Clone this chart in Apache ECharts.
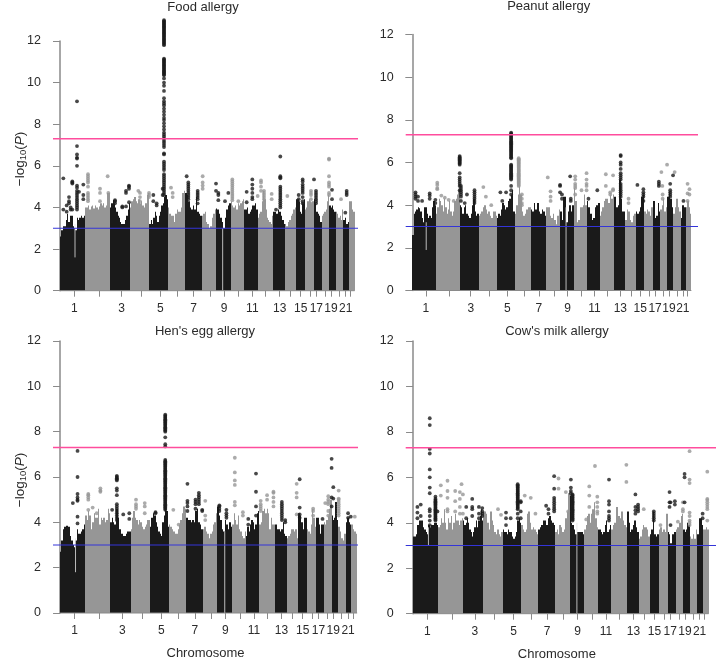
<!DOCTYPE html>
<html><head><meta charset="utf-8">
<style>html,body{margin:0;padding:0;background:#fff}#c{width:716px;height:658px}</style>
<script src="https://cdn.jsdelivr.net/npm/echarts@6/dist/echarts.min.js"></script>
</head><body><div id="c"></div>
<script>
// genome position unit: about 3.26 Mb
var chromSpans=[75,75,60,58,56,51,50,43,44,41,40,47,35,33,27,26,24,23,19,23,17,17];
var chromTicks=[43,117,185,244,301,353,401,450,492,535,577,617,659,692,722,750,769,795,813,838,857,872];
var chromNames=['1','2','3','4','5','6','7','8','9','10','11','12','13','14','15','16','17','18','19','20','21','22'];
var genomeWide=7.3, suggestive=3;

// upper envelope of the dense dots, per chromosome
var foodSky=[
[2.6,2.9,3.1,3.1,3.4,3.7,3.3,3.6,3.6,3.1,3.0,2.9,3.5,3.4,3.5,3.6,3.5,3.6],
[4.0,4.0,4.1,3.9,4.05,4.1,3.95,4.1,4.0,3.9,4.05,4.2,4.1,4.2,4.0,4.1,4.7,4.7],
[4.0,4.2,4.35,4.2,4.0,3.8,3.6,3.5,3.3,3.2,3.2,3.2,3.4,3.6,3.9,4.2],
[4.0,4.3,4.4,4.5,4.3,4.2,4.4,4.2,4.3,4.1,4.0,4.2,4.6,4.7],
[3.2,3.4,3.2,3.5,3.8,3.6,3.3,3.6,3.8,4.1,4.2,4.5,4.6,4.4],
[4.0,3.7,3.6,3.6,3.3,3.7,3.9,3.8,3.8,4.0,4.7,4.8],
[4.7,4.6,4.3,4.0,3.9,4.1,3.9,4.5,3.8,3.7,3.6],
[3.6,3.7,3.8,3.3,3.2,3.0,3.1,3.5,3.7,3.9],
[3.95,3.9,3.7,3.5,3.3,3.0,3.5,3.9,4.1,4.2],
[4.3,4.1,4.0,4.1,3.9,4.2,4.1,4.2,4.3,4.4],
[3.9,3.9,4.0,3.7,3.8,3.9,4.1,4.1,4.2,3.9],
[3.5,3.7,3.8,4.3,4.8,4.4,3.9,3.5,3.4,3.3,3.2,3.6],
[3.8,3.8,3.7,3.9,3.8,3.6,3.4,3.2],
[3.2,3.1,3.3,3.4,3.6,3.7,3.9,4.0],
[4.4,4.4,4.3,3.8,3.7,4.2,4.4],
[3.9,4.0,4.3,4.4,4.3,4.2,4.3],
[4.4,4.2,3.8,3.7,3.6,3.3],
[3.6,3.7,3.8,3.9,4.3,4.6],
[4.1,4.0,4.1,3.9,3.8],
[3.8,3.7,3.5,3.6,3.4,3.9],
[3.4,3.5,3.2,3.3],
[4.3,4.3,3.9,3.8]];
var peanutSky=[
[2.6,3.6,3.7,3.8,3.9,3.85,3.7,3.4,3.2,3.9,3.9,3.6,3.4,3.5,3.4,3.9,4.2,4.0],
[3.6,3.9,4.3,4.2,4.0,3.7,4.3,3.9,3.6,3.8,4.2,3.7,3.5,3.7,4.2,4.3,4.5,4.7],
[4.0,3.9,3.6,3.9,4.0,3.6,3.5,3.4,3.6,4.0,4.3,3.7,3.5,3.6],
[3.5,3.6,3.7,3.9,4.0,3.8,3.6,3.7,3.5,3.4,3.7,3.7,3.5],
[3.4,3.6,3.5,3.8,4.1,4.0,3.8,3.9,4.2,4.3,4.5,4.7,3.7],
[3.6,4.0,4.5,5.9,4.5,3.7,3.5,3.6,3.8,3.9,3.9],
[3.8,3.7,4.1,3.8,4.1,3.7,3.6,3.8,3.7,3.5],
[3.9,3.9,3.5,3.4,3.6,3.3,3.1,3.5,3.8],
[3.7,3.3,4.4,4.4,3.2,3.7,4.0,3.7,4.0],
[4.8,4.2,3.2,3.3,3.9,3.9,4.0,4.5,4.0],
[4.2,3.9,3.6,3.3,3.4,3.9,4.0,4.1],
[3.5,3.7,3.9,4.2,4.3,4.3,4.1,4.5,4.3,4.5],
[4.4,3.9,4.0,5.2,4.3,3.7,3.7],
[3.3,3.8,3.7,3.3,3.2,3.5,3.6],
[3.7,3.6,3.7,3.9,4.4,4.5],
[3.7,3.6,3.8,3.7,3.5,3.9],
[4.2,4.2,3.4,3.5,4.1,3.7],
[3.8,4.0,4.3,3.7,3.9],
[4.4,4.6,4.3,3.9],
[3.6,3.9,4.3,3.9,3.7],
[3.4,4.0,3.9],
[3.9,4.2,3.9,3.6]];
var eggSky=[
[2.7,3.2,3.7,3.8,3.85,3.85,3.8,3.4,3.2,3.0,2.9,3.2,3.7,3.5,3.5,3.6,3.7,3.9],
[4.3,4.1,4.5,4.3,3.7,4.0,4.4,4.2,4.2,4.6,3.9,4.2,4.1,4.2,4.0,4.1,4.6,4.4],
[4.0,4.2,4.0,3.9,4.6,4.6,4.2,3.7,3.5,3.5,3.4,3.4,3.5,3.6,3.6,3.6],
[3.7,4.2,4.5,4.2,4.1,3.9,4.1,4.0,3.8,3.7,3.8,3.9,4.1,4.1],
[3.8,4.2,4.4,4.3,4.0,3.8,3.6,3.5,3.4,4.0,4.3,4.7,4.5,3.8],
[3.9,3.8,3.7,3.6,3.5,3.5,3.7,3.9,4.1,4.4,4.7,4.6],
[4.2,4.1,4.1,4.0,4.1,4.0,4.5,4.6,4.0,3.9,3.7],
[3.7,3.8,3.6,3.5,3.3,3.5,3.6,3.9,4.0,4.4],
[4.7,4.3,4.1,3.7,3.6,4.1,3.9,3.7,4.0,3.8],
[3.9,4.4,4.1,3.9,4.3,3.7,3.6,3.4,3.3,3.6],
[3.4,3.8,3.6,3.9,4.1,4.0,3.7,3.9,4.4,4.5],
[3.9,4.0,4.5,4.6,4.4,4.6,4.4,3.7,4.2,3.9,3.9],
[3.9,3.7,3.7,3.6,3.7,4.0,3.5,3.4],
[3.3,3.4,3.5,3.7,3.7,3.6,3.7,3.3],
[4.4,4.3,4.0,3.7,4.2,4.2],
[3.7,3.6,3.5,3.9,4.6,4.2,3.8],
[4.2,4.2,3.9,3.5,3.9,3.9],
[4.0,3.9,4.1,4.3,4.6,5.0],
[4.3,4.1,4.2,4.9,4.1],
[3.8,3.6,3.3,3.2,3.5],
[4.0,4.2,4.0,3.9],
[3.9,3.7,3.6,3.5]];
var milkSky=[
[3.4,3.4,3.5,3.9,4.1,4.1,4.1,3.8,3.7,3.6,3.5,3.9,3.8,3.9,3.9,4.0,4.0,3.9],
[3.8,3.9,4.2,4.0,4.6,4.0,3.7,4.2,4.0,4.3,3.7,4.0,4.4,4.1,4.1,3.9,4.1,4.2],
[4.1,3.9,4.0,4.2,4.0,3.7,3.6,3.4,3.6,3.8,4.1,3.8,4.1,4.3,4.6,4.1],
[4.5,4.5,4.4,4.0,3.7,4.5,4.1,3.9,3.6,3.5,3.7,3.5,3.4,3.6],
[3.7,3.6,3.6,3.5,3.7,3.6,3.6,3.4,3.3,3.4,3.6,4.1,4.2,4.0],
[3.9,3.7,3.6,3.7,4.4,4.5,4.0,3.7,3.8,3.7,3.6,3.5],
[3.7,3.8,3.9,4.1,4.1,3.9,4.2,4.3,4.1,4.0,3.9],
[3.6,3.7,3.5,3.9,3.8,3.6,3.7,4.2,4.5,5.3],
[5.2,4.0,3.9,3.7,3.5,3.6,3.6,3.6,3.6,3.5],
[3.7,3.9,4.3,4.4,4.0,4.4,4.6,4.9,4.2,3.8],
[3.7,3.7,3.6,3.5,3.6,3.9,4.1,3.6,3.7,3.9],
[3.7,3.9,4.0,4.7,4.7,4.3,4.2,4.5,4.1,3.9,3.8],
[4.5,4.0,3.6,3.7,3.9,4.1,3.8,3.6],
[3.3,3.4,3.7,3.9,3.8,3.8,3.7,3.4],
[3.5,3.7,4.5,3.5,3.4,3.5],
[3.7,3.8,3.6,3.7,3.6,4.4],
[3.6,3.5,3.1,3.5,3.5,3.6],
[3.7,3.8,3.8,4.0,4.3,4.4],
[3.7,3.6,3.7,4.0,3.9],
[3.4,3.3,3.5,3.3,3.7],
[3.5,4.2,4.2,3.9],
[3.7,3.7,3.8,3.7]];

// separate dots: [position, value, value, ...]
var foodHits=[
[10,5.4,3.9],[20,4.1,3.8],[27,4.5,4.3,4.2],[32,4.0,3.9],[37,5.25,5.2,5.15,3.9],
[51,9.1,6.95,6.55,6.4,6.35,6.0,5.05,4.95,4.8,4.7,4.6,4.5,4.4,4.3,4.2,4.1,4.0,3.9],
[57,4.75],[70,5.1,4.6,4.4],
[84,5.6,5.5,5.4,5.3,5.2,5.0,4.7,4.6,4.5,4.4,4.3],[120,4.9,4.7,4.3],[143,5.5],[145,4.7],
[165,4.35,4.3,4.2],[187,4.05,4.0],[198,4.8,4.7,4.05],[207,5.05,5.0,4.9,4.25],
[235,4.8],[240,4.7,4.5,4.3],[267,4.7,4.6,4.5],
[280,4.6,4.3],[290,4.2,4.1],[308,4.9,4.6],
[312,13,12.95,12.9,12.85,12.8,12.75,12.7,12.65,12.6,12.55,12.5,12.45,12.4,12.35,12.3,12.25,12.2,12.15,12.1,12.05,12,11.95,11.9,11.85,11.8,11.15,11.1,11.05,11,10.95,10.9,10.85,10.8,10.75,10.7,10.65,10.6,10.55,10.5,10.45,10.4,10.35,10.2,10,9.85,9.6,9.25,9.1,9,8.9,8.75,8.6,8.45,8.3,8.2,8.05,7.9,7.75,7.6,7.5,7.4,7.3,7.2,7.1,7,6.9,6.6,6.55,6.2,6.1,6,5.9,5.8,5.6,5.5,5.4,5.3,5.2,5.1,5,4.9,4.8,4.7,4.6],
[333,4.95],[338,4.7,4.5],
[380,5.5],[385,5.2,5.1,5.0,4.9,4.8,4.7,4.6,4.5,4.4],[413,4.8,4.7,4.6,4.5,4.4,4.2],
[428,5.5,5.2,5.05,4.9],[468,5.15,4.8],
[475,4.7,4.6,4.35],[505,4.7],[495,4.3],
[517,5.35,5.25,5.15,5.05,4.95,4.85,4.75,4.65,4.55,4.45,4.35],[535,4.3],
[560,4.75,4.25],[577,5.35,5.1,4.9,4.7,4.5,4.4],[593,4.55],
[603,5.3,5.2,5.0,4.8],[612,4.8,4.7,4.6,4.5,4.4,4.2],[635,4.65,4.4],
[661,6.45,5.5,5.45,5.4,5.0,4.9,4.8,4.7,4.6,4.5,4.4,4.3,4.2,4.1,4.0],[648,3.9],
[682,4.55],[716,4.6,4.4],
[728,5.35,5.25,5.1,5.0,4.9,4.8,4.7,4.5,4.3,4.2],
[753,4.8,4.7,4.6,4.4,4.2],[762,5.35],[768,4.8,4.7,4.6,4.5,4.4,4.3,4.2],
[807,6.35,6.3,5.5,5.2,5.1,5.0,4.7,4.6],[816,4.85,4.4],[843,4.4],
[860,4.8,4.7,4.6],[856,3.75]];
var peanutHits=[
[10,4.6,4.5,4.4,4.3],[18,4.4,4.2],[31,4.2],[55,4.55,4.45,4.3],[79,5.05,4.95,4.8,4.75],[73,4.25,4.1],
[92,4.45],[103,4.35],[115,4.25],[131,4.2],
[150,6.3,6.25,6.2,6.15,6.1,6.05,6.0,5.95,5.9,5.5,5.3,5.2,5.1,5.0,4.9,4.7],
[154,4.9,4.8,4.7,4.6,4.5,4.4,4.2],[173,4.5],[166,4.1],
[197,4.7,4.6,4.5,4.4,4.3,4.2,4.1],[225,4.85],[233,4.4],[250,4.0],
[279,4.6],[297,4.6],[285,4.2],
[313,7.4,7.35,7.3,7.25,7.2,7.15,7.1,7.05,7,6.95,6.9,6.85,6.8,6.75,6.7,6.65,6.6,6.55,6.5,6.45,6.4,6.35,6.3,6.25,6.2,5.9,5.85,5.8,5.75,5.7,5.65,5.6,5.55,5.5,5.45,5.4,5.35,5.3,5.25,5.2,4.9,4.7,4.5],
[337,6.2,6.15,6.1,6.05,6,5.95,5.9,5.85,5.8,5.75,5.7,5.65,5.6,5.55,5.5,5.45,5.4,5.35,5.3,5.25,5.2,5.15,5.1,5.05,5,4.95,4.9],[347,4.5,4.3,4.1,4.0],
[429,5.3],[438,4.65,4.4,4.2],[468,4.95,4.9,4.6],[474,4.5,4.3],[500,5.35],[502,4.3,4.2],
[516,5.35,5.2,5.0,4.9,4.8,4.5],[536,4.7],[552,5.5,5.2,5.0,4.9,4.7],[558,4.3],[586,4.7],
[613,5.45,4.9],[636,5.4,4.75,4.7],[627,4.6,4.5],
[660,6.35,6.3,6.0,5.9,5.7,5.5,5.4,5.3,5.2,5.0,4.9,4.8,4.7,4.6,4.5,4.4],
[685,4.3,4.1],[713,4.95],[732,4.75,4.6,4.5,4.4,4.2],
[781,5.1,5.0,4.9],[789,5.55],[792,4.9],[793,4.5,4.3],[807,5.9],[817,5.0,4.7,4.6,4.5,4.4],
[826,5.4],[831,5.55],[859,4.2],[872,5.0,4.55,4.2],[878,4.75,4.5]];
var eggHits=[
[38,4.85],[52,7.15,6.0,5.25,5.1,5.0,4.95,4.25,3.95],
[84,5.25,5.2,5.1,5.0,4.55],[97,4.65],[109,4.4],[120,5.5,5.4,5.35],[155,4.55],
[169,6.05,6.0,5.95,5.9,5.85,5.5,5.4,5.2,4.8,4.7,4.6,4.5,4.4,4.3,4.2,4.1],[188,4.35],[206,4.4,4.15],
[226,5.0,4.8,4.7,4.6],[252,4.85,4.7,4.4],[284,4.45,4.4],
[313,8.75,8.7,8.65,8.6,8.55,8.5,8.45,8.4,8.35,8.3,8.25,8.2,8.15,8.1,8.05,8.0,7.75,7.45,7.35,6.75,6.7,6.65,6.6,6.55,6.5,6.45,6.4,6.35,6.3,6.25,6.2,6.15,6.1,6.05,6,5.95,5.9,5.85,5.8,5.75,5.7,5.65,5.6,5.55,5.5,5.45,5.4,5.35,5.3,5.25,5.2,5.15,5.1,5.05,5,4.95,4.9,4.85,4.8,4.75,4.7,4.65,4.6,4.55],
[337,4.55],[353,3.9],[379,5.7,4.95,4.85,4.7,4.5],[403,5.0,4.9,4.8,4.6],[413,5.3,5.2,5.1,5.0,4.9,4.8],
[423,4.55,4.5],[432,4.95,4.3,4.1],[474,4.75,4.7,4.6,4.5],[495,4.55,4.4,4.3,4.2],
[520,6.85,6.2,5.85,5.65,4.9,4.75],[544,4.45,4.3],[560,4.15,3.9],[583,6.15,5.35,4.7,4.3],
[597,4.95,4.8,4.7,4.6,4.5],[616,5.2,5.0],[635,5.35,5.3,5.1,4.9,4.7],
[660,4.9,4.8,4.7,4.6,4.5,4.4,4.3,4.2,4.1],[670,4.1,4.0],[704,5.7,5.3,5.1,4.35],[713,5.9,4.65,4.35,4.2],
[753,4.6,4.5,4.3],[781,4.15],[789,4.85],[798,5.15,5.0,4.9,4.8,4.5,4.3],[808,6.8,6.4,5.1,4.7],[813,5.55,5.05],
[829,5.4,5.05,5.0,4.9,4.8,4.7,4.6,4.5,4.4,4.3],[857,4.4,4.2],[865,4.25],[877,4.25]];
var milkHits=[
[13,4.7,4.45,4.2],[23,4.8,4.3],[50,8.6,8.3,7.25,7.05,6.35,6.0,5.55,5.3,4.6,4.5,4.3,4.1,3.9],
[67,5.15,5.05,5.0,4.95,4.9,4.85,4.8,4.75,4.7,4.65,4.6,4.55,4.5,4.45,4.4,4.35,4.3,4.25,4.2,4.15,4.1],[73,4.5],
[83,5.65,5.2],[103,5.85,5.4,5.1,4.6,4.5],[126,5.4,4.95,4.5],[140,5.35,5.05,4.7,4.4],[145,5.7],[149,5.25,4.4],
[159,4.7,4.2],[177,5.05,4.7,4.6,4.3],[197,4.7,4.4,4.2],[207,4.65,4.5,4.4,4.3],
[254,4.6],[263,4.35],[278,4.45,4.2,3.9],[292,4.2],
[313,5.7,5.65,5.6,5.55,5.5,5.45,5.4,5.35,5.3,5.25,5.2,5.15,5.1,5.05,5,4.95,4.9,4.85,4.8,4.75,4.7,4.65,4.6,4.4,4.2],[322,4.95,4.9,4.5,4.2],
[334,5.2],[352,5.1],[366,4.4],[398,4.75],[405,4.6,4.4],
[422,6.05,5.5,5.1,5.0,4.9,4.8,4.7,4.6,4.5],[435,5.95,5.5],[457,5.35],[464,4.5],
[472,5.9,5.55,5.4,5.3],[477,5.25,5.2,5.15,5.1,5.05,5,4.95,4.9,4.85,4.8,4.75,4.7,4.65,4.6,4.55,4.5,4.45,4.4,4.35,4.3,4.25,4.2,4.15,4.1],
[518,4.15],[527,5.6,5.2,4.7],[544,6.5],[551,5.15,4.9,4.7,4.5,4.4],
[586,5.9,4.95,4.8,4.5,4.3,4.2,4.1],[638,6.55,5.8],[665,5.25,4.7,4.55,4.4],[673,4.8,4.7,4.6,4.5],
[690,4.6],[720,4.5,4.4,4.3,4.2,4.1],[740,3.9],[767,5.35,4.9,4.7],[770,4.9,3.9],[783,4.95,4.8],[792,4.05],
[812,6.15,6.0,4.9],[807,4.9,4.6,4.5],[827,7.15,5.9,5.75,4.45,4.3,4.1,4.0,3.9],[866,4.4,4.2],
[880,6.25,5.05,5.0,4.9,4.8,4.7,4.6,4.1]];

// thin empty stripes at centromeres: [position, from, to]
var foodGaps=[[45,1.6,3.2],[488,0,3.0]];
var peanutGaps=[[44,1.9,3.2],[487,0,3.9]];
var eggGaps=[[46,1.8,3.3],[490,0,3.6]];
var milkGaps=[[46,3.0,3.8],[490,0,4.0]];

var panels=[
 {name:'Food allergy',sky:foodSky,hits:foodHits,gaps:foodGaps},
 {name:'Peanut allergy',sky:peanutSky,hits:peanutHits,gaps:peanutGaps},
 {name:"Hen's egg allergy",sky:eggSky,hits:eggHits,gaps:eggGaps},
 {name:"Cow's milk allergy",sky:milkSky,hits:milkHits,gaps:milkGaps}];
var layout=[
 {left:53,top:41,width:305,height:249.7,xmin:-21,xmax:894,tx:203,ty:1,namePad:0},
 {left:405.7,top:34.5,width:292.3,height:256,xmin:-21,xmax:905,tx:548.7,ty:0,namePad:0},
 {left:53,top:341,width:305,height:272,xmin:-21,xmax:886.5,tx:205,ty:325,namePad:0},
 {left:405.7,top:341,width:310.3,height:272.7,xmin:-22,xmax:906,tx:557,ty:325,namePad:8}];

var BLACK='#1a1a1a', GREY='#969696', AXIS='#8a8a8a', TXT='#2b2b2b', FONT='Liberation Sans';
var starts=[],s0=0;chromSpans.forEach(function(s){starts.push(s0);s0+=s;});
var total=s0;
function chromOf(x){for(var i=chromSpans.length-1;i>=0;i--){if(x>=starts[i])return i;}return 0;}

function renderSky(params,api){
  var a=api.coord([api.value(0),api.value(2)]), b=api.coord([api.value(1),0]);
  var x0=Math.round(a[0]), x1=Math.round(b[0]);
  return {type:'rect',shape:{x:x0,y:a[1],width:Math.max(x1-x0,1),height:b[1]-a[1]},
    style:{fill:api.value(3)===0?BLACK:GREY}};
}

var grids=[],xAxes=[],yAxes=[],titles=[],series=[];
panels.forEach(function(p,k){
  var L=layout[k];
  grids.push({left:L.left,top:L.top,width:L.width,height:L.height,containLabel:false,outerBoundsMode:'none'});
  titles.push({text:p.name,left:L.tx,top:L.ty,padding:0,textAlign:'center',textStyle:{fontFamily:FONT,fontSize:13,fontWeight:'normal',color:TXT}});
  xAxes.push({type:'value',gridIndex:k,min:L.xmin,max:L.xmax,splitLine:{show:false},
    name:k>=2?'Chromosome':'',nameLocation:'middle',nameGap:34,nameTextStyle:{fontFamily:FONT,fontSize:13,color:TXT,padding:[0,L.namePad,0,0]},
    axisLine:{show:false},
    axisTick:{show:true,length:6,lineStyle:{color:AXIS,width:1},customValues:chromTicks},
    axisLabel:{show:true,margin:12,fontFamily:FONT,fontSize:12,color:TXT,hideOverlap:false,
      customValues:chromTicks.filter(function(t,i){return i%2===0;}),
      formatter:function(v){return chromNames[chromTicks.indexOf(v)];}}});
  yAxes.push({type:'value',gridIndex:k,min:0,max:12,interval:2,splitLine:{show:false},
    axisLine:{show:true,lineStyle:{color:AXIS,width:1.5}},
    axisTick:{show:true,length:7,lineStyle:{color:AXIS,width:1}},
    axisLabel:{margin:12,fontFamily:FONT,fontSize:12.5,color:TXT}});
  var rects=[];
  p.sky.forEach(function(vals,c){
    var step=chromSpans[c]/vals.length;
    vals.forEach(function(v,i){rects.push([starts[c]+i*step,starts[c]+(i+1)*step,v,c%2]);});
  });
  series.push({type:'custom',xAxisIndex:k,yAxisIndex:k,data:rects,renderItem:renderSky,encode:{x:[0,1],y:2},silent:true,z:1});
  var odd=[],even=[];
  p.hits.forEach(function(h){
    var c=chromOf(h[0]);
    for(var i=1;i<h.length;i++){(c%2===0?odd:even).push([h[0],h[i]]);}
  });
  [[even,GREY],[odd,BLACK]].forEach(function(e){
    series.push({type:'scatter',xAxisIndex:k,yAxisIndex:k,data:e[0],symbol:'circle',symbolSize:3.8,clip:false,silent:true,z:2,
      itemStyle:{color:e[1]}});
  });
  p.gaps.forEach(function(g){
    series.push({type:'line',xAxisIndex:k,yAxisIndex:k,data:[[g[0],g[1]],[g[0],g[2]]],showSymbol:false,silent:true,z:3,
      lineStyle:{color:'#e4e4e4',width:0.8}});
  });
  series.push({type:'line',xAxisIndex:k,yAxisIndex:k,data:[[0,0],[total,0]],showSymbol:false,silent:true,clip:false,z:4,
    lineStyle:{color:AXIS,width:1}});
  series.push({type:'line',xAxisIndex:k,yAxisIndex:k,data:[[L.xmin,genomeWide],[L.xmax,genomeWide]],showSymbol:false,silent:true,z:5,
    lineStyle:{color:'#ff4d9d',width:1.6}});
  series.push({type:'line',xAxisIndex:k,yAxisIndex:k,data:[[L.xmin,suggestive],[L.xmax,suggestive]],showSymbol:false,silent:true,z:5,
    lineStyle:{color:'#3434d8',width:1.1}});
});

function yLabel(x,y){
  return {type:'text',x:x,y:y,rotation:Math.PI/2,z:10,
    style:{text:'\u2212log{s|10}({i|P})',x:0,y:0,align:'center',verticalAlign:'middle',fontFamily:FONT,fontSize:13.5,fill:TXT,
      rich:{s:{fontFamily:FONT,fontSize:9.5,fill:TXT,padding:[6,0,0,0]},i:{fontFamily:FONT,fontSize:13.5,fontStyle:'italic',fill:TXT}}}};
}
var chart=echarts.init(document.getElementById('c'),null,{renderer:'canvas'});
chart.setOption({animation:false,backgroundColor:'#fff',tooltip:{show:false},
  title:titles,grid:grids,xAxis:xAxes,yAxis:yAxes,series:series,
  graphic:[yLabel(20,159),yLabel(20,480)]});
</script></body></html>
